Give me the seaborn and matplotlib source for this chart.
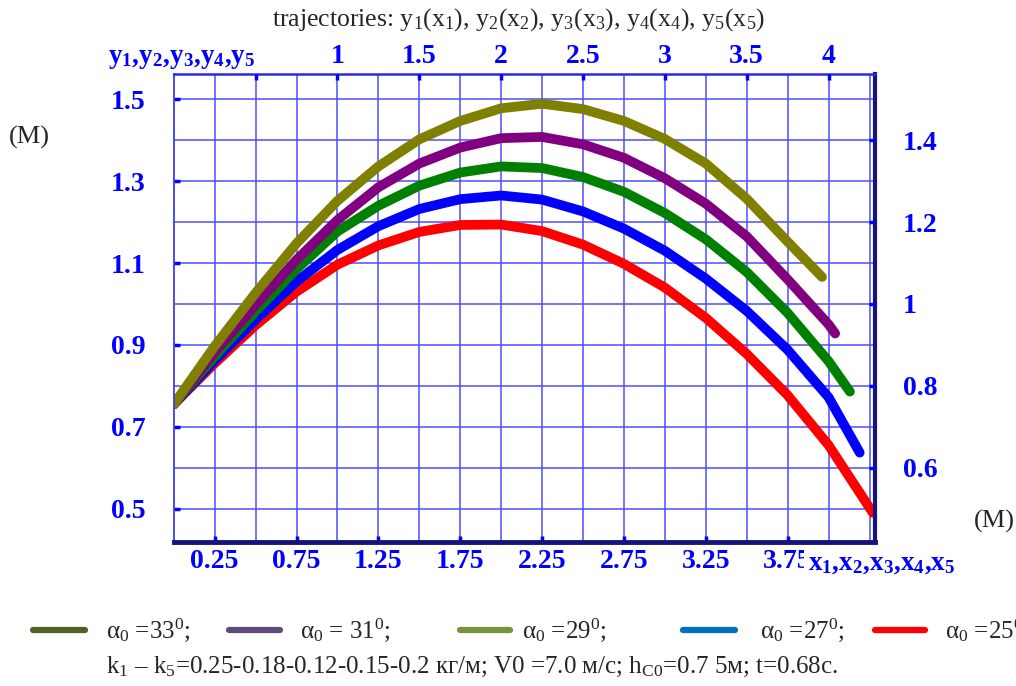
import numpy as np
import pandas as pd
import matplotlib
matplotlib.use("Agg")
import matplotlib.pyplot as plt
from matplotlib.lines import Line2D
import seaborn as sns

# -------------------------
# data
# -------------------------
angles = ["33", "31", "29", "27", "25"]

x_33 = [0, 0.25, 0.5, 0.75, 1.0, 1.25, 1.5, 1.75, 2.0, 2.25, 2.5, 2.75, 3.0, 3.25, 3.5, 3.75, 3.96]
y_33 = [0.755, 0.897, 1.027, 1.148, 1.252, 1.336, 1.402, 1.447, 1.478, 1.489, 1.476, 1.447, 1.403, 1.343, 1.257, 1.152, 1.066]

x_31 = [0, 0.25, 0.5, 0.75, 1.0, 1.25, 1.5, 1.75, 2.0, 2.25, 2.5, 2.75, 3.0, 3.25, 3.5, 3.75, 4.0, 4.04]
y_31 = [0.755, 0.882, 0.998, 1.108, 1.205, 1.285, 1.343, 1.382, 1.405, 1.408, 1.39, 1.357, 1.307, 1.245, 1.165, 1.06, 0.95, 0.928]

x_29 = [0, 0.25, 0.5, 0.75, 1.0, 1.25, 1.5, 1.75, 2.0, 2.25, 2.5, 2.75, 3.0, 3.25, 3.5, 3.75, 4.0, 4.13]
y_29 = [0.755, 0.872, 0.982, 1.085, 1.177, 1.24, 1.289, 1.321, 1.336, 1.332, 1.31, 1.274, 1.222, 1.158, 1.078, 0.978, 0.86, 0.786]

x_27 = [0, 0.25, 0.5, 0.75, 1.0, 1.25, 1.5, 1.75, 2.0, 2.25, 2.5, 2.75, 3.0, 3.25, 3.5, 3.75, 4.0, 4.19]
y_27 = [0.755, 0.862, 0.962, 1.055, 1.132, 1.19, 1.232, 1.256, 1.265, 1.255, 1.226, 1.184, 1.13, 1.062, 0.983, 0.888, 0.772, 0.637]

x_25 = [0, 0.25, 0.5, 0.75, 1.0, 1.25, 1.5, 1.75, 2.0, 2.25, 2.5, 2.75, 3.0, 3.25, 3.5, 3.75, 4.0, 4.27]
y_25 = [0.755, 0.855, 0.948, 1.03, 1.096, 1.143, 1.176, 1.193, 1.194, 1.178, 1.145, 1.098, 1.04, 0.966, 0.878, 0.777, 0.655, 0.49]

curve_colors = {"33": "#808000", "31": "#800080", "29": "#008000", "27": "#0000ff", "25": "#ff0000"}
legend_colors = ["#4f6228", "#604a7b", "#77933c", "#0070c0", "#ff0000"]
legend_labels = [r"α$_0$ =33$^0$;", r"α$_0$ = 31$^0$;", r"α$_0$ =29$^0$;", r"α$_0$ =27$^0$;", r"α$_0$ =25$^0$"]

bottom_ticks = [0.25, 0.75, 1.25, 1.75, 2.25, 2.75, 3.25, 3.75]
bottom_labels = ["0.25", "0.75", "1.25", "1.75", "2.25", "2.75", "3.25", "3.75"]
top_ticks = [0.5, 1.0, 1.5, 2.0, 2.5, 3.0, 3.5, 4.0]
top_labels = ["", "1", "1.5", "2", "2.5", "3", "3.5", "4"]
left_ticks = [0.5, 0.7, 0.9, 1.1, 1.3, 1.5]
left_labels = ["0.5", "0.7", "0.9", "1.1", "1.3", "1.5"]
right_ticks = [0.6, 0.8, 1.0, 1.2, 1.4]
right_labels = ["0.6", "0.8", "1", "1.2", "1.4"]

# long-form table for seaborn
frames = []
for a, xs, ys in zip(angles, [x_33, x_31, x_29, x_27, x_25], [y_33, y_31, y_29, y_27, y_25]):
    frames.append(pd.DataFrame({"x": xs, "y": ys, "angle": a}))
df = pd.concat(frames, ignore_index=True)

# -------------------------
# style
# -------------------------
sns.set_style("white")
plt.rcParams["font.family"] = ["Liberation Serif", "DejaVu Serif"]
plt.rcParams["mathtext.fontset"] = "custom"
plt.rcParams["mathtext.rm"] = "Liberation Serif"
plt.rcParams["mathtext.it"] = "Liberation Serif:italic"
plt.rcParams["mathtext.bf"] = "Liberation Serif:bold"

BLUE = "#0000ff"
GRID = "#4d4dff"
NAVY = "#14147a"
TICK_FS = 20

fig = plt.figure(figsize=(10.16, 6.86), dpi=100)
ax = fig.add_axes([0.171, 0.2104, 0.690, 0.6813])

sns.lineplot(data=df, x="x", y="y", hue="angle", hue_order=["25", "27", "29", "31", "33"],
             palette=curve_colors, sort=False, estimator=None, legend=False, ax=ax,
             linewidth=7, solid_capstyle="round", solid_joinstyle="round")

xlim = (0, 4.282)
ylim = (0.4195, 1.561)
ax.set_xlim(xlim)
ax.set_ylim(ylim)
ax.set_xlabel("")
ax.set_ylabel("")

# grid every 0.25 / 0.1
ax.set_xticks(np.arange(0.25, 4.30, 0.25), minor=True)
ax.set_yticks(np.arange(0.5, 1.55, 0.1), minor=True)
ax.set_xticks(bottom_ticks)
ax.set_xticklabels(bottom_labels, fontweight="bold")
ax.set_yticks(left_ticks)
ax.set_yticklabels(left_labels, fontweight="bold")
ax.grid(which="both", color=GRID, linewidth=1.1)
ax.set_axisbelow(True)
ax.tick_params(which="minor", length=0)
ax.tick_params(axis="x", which="major", direction="in", length=4, width=2.5, color=BLUE,
               labelsize=TICK_FS, labelcolor=BLUE, pad=5)
ax.tick_params(axis="y", which="major", direction="in", length=4, width=2.5, color=BLUE,
               labelsize=TICK_FS, labelcolor=BLUE, pad=20)

ax.spines["left"].set_color("#3c3cf0")
ax.spines["left"].set_linewidth(1.3)
ax.spines["top"].set_color("#2a2ae0")
ax.spines["top"].set_linewidth(1.8)
ax.spines["right"].set_color(NAVY)
ax.spines["right"].set_linewidth(3)
ax.spines["bottom"].set_color(NAVY)
ax.spines["bottom"].set_linewidth(3.5)

# top axis
axt = ax.twiny()
axt.set_xlim(xlim)
axt.set_xticks(top_ticks)
axt.set_xticklabels(top_labels, fontweight="bold")
axt.tick_params(axis="x", direction="in", length=4, width=2.5, color=BLUE,
                labelsize=TICK_FS, labelcolor=BLUE, pad=4)
for s in axt.spines.values():
    s.set_visible(False)

# right axis
axr = ax.twinx()
axr.set_ylim(ylim)
axr.set_yticks(right_ticks)
axr.set_yticklabels(right_labels, fontweight="bold")
axr.tick_params(axis="y", direction="in", length=4, width=2.5, color=BLUE,
                labelsize=TICK_FS, labelcolor=BLUE, pad=20)
for s in axr.spines.values():
    s.set_visible(False)

# axis names
fig.text(108 / 1016, 1 - 63 / 686,
         r"y$_\mathbf{1}$,y$_\mathbf{2}$,y$_\mathbf{3}$,y$_\mathbf{4}$,y$_\mathbf{5}$",
         color=BLUE, fontsize=19.5, fontweight="bold", ha="left", va="baseline",
         bbox=dict(facecolor="white", edgecolor="none", pad=0))
fig.text(808 / 1016, 1 - 570 / 686,
         r"x$_\mathbf{1}$,x$_\mathbf{2}$,x$_\mathbf{3}$,x$_\mathbf{4}$,x$_\mathbf{5}$",
         color=BLUE, fontsize=19.5, fontweight="bold", ha="left", va="baseline",
         bbox=dict(facecolor="white", edgecolor="none", pad=3))
fig.text(29 / 1016, 1 - 137 / 686, "(M)", fontsize=19, ha="center", va="center")
fig.text(994 / 1016, 1 - 521 / 686, "(M)", fontsize=19, ha="center", va="center")

# title (second line visible)
fig.text(518 / 1016, 1 - 20 / 686,
         r"trajectories: y$_1$(x$_1$), y$_2$(x$_2$), y$_3$(x$_3$), y$_4$(x$_4$), y$_5$(x$_5$)",
         fontsize=18.5, ha="center", va="center")

# legend row
line_x = [(33, 85), (229, 280), (460, 510), (683, 735), (875, 925)]
text_x = [106, 300, 522, 760, 945]
for (x0, x1), tx, c, lab in zip(line_x, text_x, legend_colors, legend_labels):
    fig.add_artist(Line2D([x0 / 1016, x1 / 1016], [1 - 630 / 686] * 2,
                          transform=fig.transFigure, color=c, linewidth=4.5))
    fig.text(tx / 1016, 1 - 630 / 686, lab, fontsize=18, ha="left", va="center")

fig.text(106 / 1016, 1 - 667 / 686,
         r"k$_1$ – k$_5$=0.25-0.18-0.12-0.15-0.2 кг/м; V0 =7.0 м/с; h$_{\mathrm{C0}}$=0.7 5м; t=0.68с.",
         fontsize=18, ha="left", va="center")

fig.savefig("out.png", dpi=100)
